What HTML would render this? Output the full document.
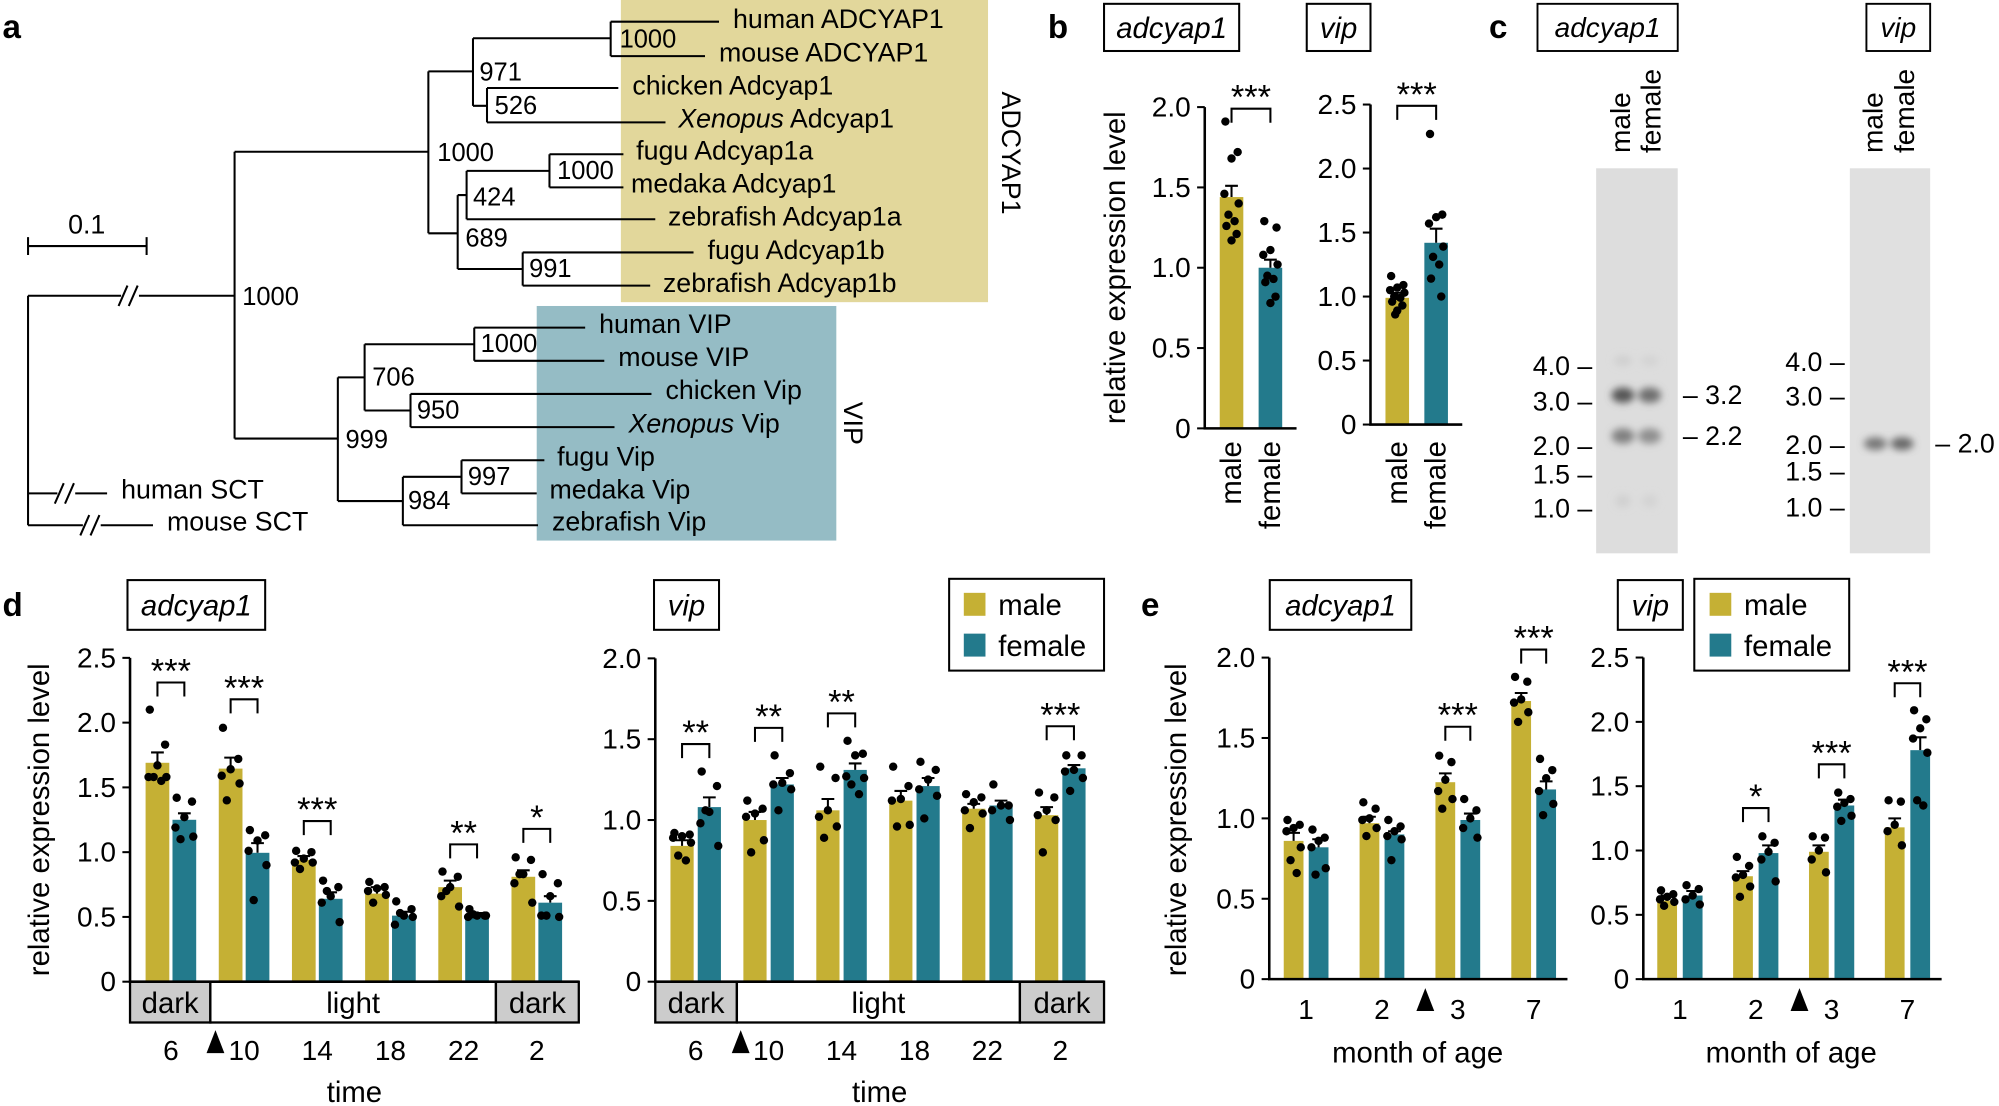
<!DOCTYPE html>
<html><head><meta charset="utf-8">
<style>
html,body{margin:0;padding:0;background:#fff;}
svg{display:block;font-family:"Liberation Sans",sans-serif;}
</style></head>
<body>
<svg id="fig" xmlns="http://www.w3.org/2000/svg" width="1999" height="1106" viewBox="0 0 1568 867.5" preserveAspectRatio="none">
<defs>
<filter id="blur" x="-50%" y="-50%" width="200%" height="200%"><feGaussianBlur stdDeviation="3"/></filter>
</defs>
<!-- Panel a -->
<g>
<text x="2" y="30" font-size="26" font-weight="bold">a</text>
<rect x="487" y="0" width="288" height="237" fill="#e2d79b"/>
<rect x="421" y="240" width="235" height="184" fill="#95bcc5"/>
<text transform="translate(786,120) rotate(90)" text-anchor="middle" font-size="21">ADCYAP1</text>
<text transform="translate(662,332) rotate(90)" text-anchor="middle" font-size="21">VIP</text>
<g stroke="#000" stroke-width="1.6">
<path d="M22 193 H115 M22 186 V200 M115 186 V200" fill="none"/>
</g>
<text x="68" y="183" text-anchor="middle" font-size="21">0.1</text>
<path fill="none" stroke="#000" stroke-width="1.6" d="
M22 232 V412 M22 232 H184 M22 387 H84 M22 412 H120
M184 119 V344 M184 119 H336 M336 56 V183 M336 56 H371 M371 30 V83 M371 30 H479 M479 17 V44 M479 17 H564 M479 44 H553
M371 83 H382 M382 69 V96 M382 69 H485 M382 96 H522
M336 183 H359 M359 153 V211 M359 153 H366 M366 134 V172 M366 134 H431 M431 121 V147 M431 121 H489 M431 147 H489 M366 172 H514
M359 211 H410 M410 198 V224 M410 198 H544 M410 224 H510
M184 344 H265 M265 296 V393 M265 296 H286 M286 270 V322 M286 270 H372 M372 257 V283 M372 257 H459 M372 283 H474
M286 322 H322 M322 309 V335 M322 309 H511 M322 335 H482
M265 393 H316 M316 374 V412 M316 374 H362 M362 361 V387 M362 361 H427 M362 387 H421 M316 412 H422"/>
<g stroke="#000" stroke-width="1.6">
<rect x="95" y="225" width="14" height="14" fill="#fff" stroke="none"/>
<path d="M93 240 L100 224 M101 240 L108 224"/>
<rect x="45" y="380" width="14" height="14" fill="#fff" stroke="none"/>
<path d="M43 395 L50 379 M51 395 L58 379"/>
<rect x="65" y="405" width="14" height="14" fill="#fff" stroke="none"/>
<path d="M63 420 L70 404 M71 420 L78 404"/>
</g>
<g font-size="21" dominant-baseline="central">
<text x="575" y="15">human ADCYAP1</text>
<text x="564" y="41">mouse ADCYAP1</text>
<text x="496" y="67">chicken Adcyap1</text>
<text x="532" y="93"><tspan font-style="italic">Xenopus</tspan> Adcyap1</text>
<text x="499" y="118">fugu Adcyap1a</text>
<text x="495" y="144">medaka Adcyap1</text>
<text x="524" y="170">zebrafish Adcyap1a</text>
<text x="555" y="196">fugu Adcyap1b</text>
<text x="520" y="222">zebrafish Adcyap1b</text>
<text x="470" y="254">human VIP</text>
<text x="485" y="280">mouse VIP</text>
<text x="522" y="306">chicken Vip</text>
<text x="493" y="332"><tspan font-style="italic">Xenopus</tspan> Vip</text>
<text x="437" y="358">fugu Vip</text>
<text x="431" y="384">medaka Vip</text>
<text x="433" y="409">zebrafish Vip</text>
<text x="95" y="384">human SCT</text>
<text x="131" y="409">mouse SCT</text>
</g>
<g font-size="20" dominant-baseline="central">
<text x="190" y="233">1000</text>
<text x="343" y="120">1000</text>
<text x="376" y="57">971</text>
<text x="486" y="31">1000</text>
<text x="388" y="83">526</text>
<text x="365" y="187">689</text>
<text x="371" y="155">424</text>
<text x="437" y="134">1000</text>
<text x="415" y="211">991</text>
<text x="271" y="345">999</text>
<text x="292" y="296">706</text>
<text x="377" y="270">1000</text>
<text x="327" y="322">950</text>
<text x="320" y="393">984</text>
<text x="367" y="374">997</text>
</g>
</g>

<!-- Panel c blots -->
<g>
<text x="1168" y="30" font-size="26" font-weight="bold">c</text>
<rect x="1206" y="3" width="110" height="37" fill="#fff" stroke="#000" stroke-width="1.5"/>
<text x="1261" y="29" text-anchor="middle" font-size="22" font-style="italic">adcyap1</text>
<rect x="1464" y="3" width="50" height="37" fill="#fff" stroke="#000" stroke-width="1.5"/>
<text x="1489" y="29" text-anchor="middle" font-size="22" font-style="italic">vip</text>
<g font-size="22" dominant-baseline="central">
<text transform="translate(1271,120) rotate(-90)">male</text>
<text transform="translate(1295,120) rotate(-90)">female</text>
<text transform="translate(1469,120) rotate(-90)">male</text>
<text transform="translate(1494,120) rotate(-90)">female</text>
</g>
<rect x="1252" y="132" width="64" height="302" fill="#dddddd"/>
<g filter="url(#blur)">
<ellipse cx="1273" cy="283" rx="7" ry="4" fill="#cfcfcf"/><ellipse cx="1294" cy="283" rx="7" ry="4" fill="#d3d3d3"/>
<ellipse cx="1273" cy="310" rx="9" ry="6" fill="#555"/><ellipse cx="1294" cy="310" rx="9" ry="6" fill="#6e6e6e"/>
<ellipse cx="1273" cy="342" rx="9" ry="6" fill="#808080"/><ellipse cx="1294" cy="342" rx="9" ry="6" fill="#8f8f8f"/>
<ellipse cx="1273" cy="393" rx="6" ry="5" fill="#d0d0d0"/><ellipse cx="1294" cy="393" rx="6" ry="5" fill="#d3d3d3"/>
</g>
<rect x="1451" y="132" width="63" height="302" fill="#e0e0e0"/>
<g filter="url(#blur)">
<ellipse cx="1471" cy="348" rx="9" ry="5" fill="#777"/><ellipse cx="1492" cy="348" rx="9" ry="5" fill="#666"/>
</g>
<g font-size="21" text-anchor="end" dominant-baseline="central">
<text x="1249" y="287">4.0 –</text><text x="1249" y="315">3.0 –</text><text x="1249" y="350">2.0 –</text><text x="1249" y="372">1.5 –</text><text x="1249" y="399">1.0 –</text>
<text x="1447" y="284">4.0 –</text><text x="1447" y="311">3.0 –</text><text x="1447" y="349">2.0 –</text><text x="1447" y="370">1.5 –</text><text x="1447" y="398">1.0 –</text>
</g>
<g font-size="21" dominant-baseline="central">
<text x="1320" y="310">– 3.2</text><text x="1320" y="342">– 2.2</text><text x="1518" y="348">– 2.0</text>
</g>
</g>
<g id="charts"></g>
</svg>
<script>
// ---------- data ----------
// panel b
const bCats=['male','female'];
const bAdcMeans=[1.44,1.0];
const bAdcErr=[1.51,1.05];
const bAdcDots=[[1.91,1.72,1.68,1.46,1.40,1.33,1.29,1.26,1.21,1.17],[1.29,1.25,1.11,1.08,1.02,0.95,0.93,0.91,0.82,0.78]];
const bVipMeans=[0.99,1.42];
const bVipErr=[1.03,1.53];
const bVipDots=[[1.16,1.09,1.07,1.05,1.03,1.0,0.99,0.96,0.93,0.89,0.86],[2.27,1.64,1.62,1.57,1.39,1.31,1.25,1.14,1.0]];
// panel d
const dCats=['6','10','14','18','22','2'];
const dAdcMale=[1.69,1.645,0.94,0.68,0.73,0.81];
const dAdcFemale=[1.25,0.995,0.64,0.51,0.51,0.61];
const dAdcMaleErr=[1.77,1.73,0.97,0.73,0.78,0.86];
const dAdcFemaleErr=[1.30,1.07,0.69,0.54,0.53,0.66];
const dAdcMaleDots=[[2.10,1.83,1.67,1.58,1.58,1.58,1.55],[1.96,1.72,1.64,1.59,1.53,1.40],[1.01,1.00,0.95,0.92,0.92,0.87],[0.77,0.73,0.72,0.70,0.67,0.61],[0.85,0.81,0.73,0.66,0.58,0.70],[0.96,0.94,0.83,0.76,0.61,0.83]];
const dAdcFemaleDots=[[1.42,1.39,1.27,1.19,1.12,1.10],[1.17,1.13,1.09,1.01,0.90,0.63],[0.78,0.73,0.66,0.61,0.46,0.70],[0.62,0.56,0.51,0.44,0.50,0.53],[0.56,0.51,0.51,0.50,0.51,0.52],[0.83,0.76,0.66,0.51,0.50,0.51]];
const dAdcSigIdx=[0,1,2,4,5];
const dAdcSigTop=[2.31,2.18,1.24,1.06,1.18];
const dAdcSigStars=['***','***','***','**','*'];
const dVipMale=[0.84,1.0,1.06,1.12,1.07,1.03];
const dVipFemale=[1.08,1.22,1.31,1.21,1.09,1.32];
const dVipMaleErr=[0.875,1.05,1.13,1.18,1.10,1.08];
const dVipFemaleErr=[1.14,1.26,1.35,1.26,1.12,1.34];
const dVipMaleDots=[[0.92,0.91,0.90,0.89,0.86,0.78,0.75],[1.12,1.07,1.04,1.02,0.875,0.80],[1.33,1.26,1.06,1.02,0.96,0.89],[1.33,1.21,1.13,1.12,0.97,0.96],[1.16,1.14,1.11,1.06,1.04,0.95],[1.17,1.14,1.06,1.03,1.0,0.80]];
const dVipFemaleDots=[[1.30,1.21,1.05,0.98,0.84,1.06],[1.40,1.29,1.23,1.22,1.19,1.06],[1.49,1.41,1.40,1.27,1.26,1.22,1.16],[1.36,1.31,1.25,1.19,1.15,1.01],[1.22,1.09,1.09,1.06,1.0],[1.40,1.40,1.31,1.30,1.26,1.18]];
const dVipSigIdx=[0,1,2,5];
const dVipSigTop=[1.47,1.57,1.66,1.58];
const dVipSigStars=['**','**','**','***'];
const dTicksA=[0,0.5,1,1.5,2,2.5];
const dTickLabelsA=['0','0.5','1.0','1.5','2.0','2.5'];
const dTicksV=[0,0.5,1,1.5,2];
const dTickLabelsV=['0','0.5','1.0','1.5','2.0'];
// panel e
const eCats=['1','2','3','7'];
const eAdcMale=[0.86,0.97,1.225,1.73];
const eAdcFemale=[0.82,0.90,0.99,1.18];
const eAdcMaleErr=[0.91,1.01,1.28,1.78];
const eAdcFemaleErr=[0.87,0.92,1.03,1.23];
const eAdcMaleDots=[[0.99,0.96,0.94,0.92,0.82,0.74,0.66],[1.10,1.06,1.0,0.99,0.94,0.89],[1.39,1.35,1.24,1.17,1.12,1.06],[1.88,1.85,1.74,1.72,1.66,1.60]];
const eAdcFemaleDots=[[0.93,0.88,0.86,0.82,0.69,0.65],[0.99,0.95,0.92,0.89,0.87,0.74],[1.12,1.05,1.0,0.94,0.88],[1.37,1.30,1.25,1.17,1.09,1.02]];
const eAdcSigIdx=[2,3];
const eAdcSigTop=[1.57,2.05];
const eAdcSigStars=['***','***'];
const eVipMale=[0.61,0.80,0.99,1.18];
const eVipFemale=[0.65,0.98,1.35,1.78];
const eVipMaleErr=[0.65,0.84,1.04,1.25];
const eVipFemaleErr=[0.685,1.04,1.395,1.88];
const eVipMaleDots=[[0.69,0.66,0.64,0.62,0.60,0.57],[0.95,0.88,0.81,0.79,0.72,0.64],[1.11,1.10,1.0,0.93,0.83],[1.39,1.38,1.20,1.15,1.04]];
const eVipFemaleDots=[[0.73,0.70,0.65,0.62,0.58],[1.11,1.06,0.99,0.93,0.76],[1.45,1.40,1.37,1.34,1.27,1.23],[2.09,2.02,1.95,1.87,1.76,1.39,1.35]];
const eVipSigIdx=[1,2,3];
const eVipSigTop=[1.33,1.67,2.30];
const eVipSigStars=['*','***','***'];
const eTicksA=[0,0.5,1,1.5,2];
const eTickLabelsA=['0','0.5','1.0','1.5','2.0'];
const eTicksV=[0,0.5,1,1.5,2,2.5];
const eTickLabelsV=['0','0.5','1.0','1.5','2.0','2.5'];

// ---------- drawing ----------
const NS='http://www.w3.org/2000/svg';
const root=document.getElementById('charts');
const MALE='#c5b034', FEMALE='#237a8c';
const OFFS=[-6,6,0,-7,7,-3,3,-5,5,0,-2];
function mk(tag,attrs,parent){const e=document.createElementNS(NS,tag);for(const k in attrs)e.setAttribute(k,attrs[k]);(parent||root).appendChild(e);return e;}
function txt(str,attrs,parent){const e=mk('text',attrs,parent);e.textContent=str;return e;}

function drawChart(c){
  const g=mk('g',{});
  
  
  const y=v=>c.y0-v*c.ppu;
  const xm=i=>c.m0+i*c.step, xf=i=>c.f0+i*c.step;
  // bars
  c.male.forEach((v,i)=>{
    const r=mk('rect',{x:xm(i)-c.bw/2,y:y(v),width:c.bw,height:c.y0-y(v),fill:MALE},g);
    
    
  });
  c.female.forEach((v,i)=>{
    const r=mk('rect',{x:xf(i)-c.bw/2,y:y(v),width:c.bw,height:c.y0-y(v),fill:FEMALE},g);
    
    
  });
  // error bars
  function err(cx,m,t,nm){
    const p=mk('path',{d:`M${cx} ${y(m)} V${y(t)} M${cx-5} ${y(t)} H${cx+5}`,stroke:'#000','stroke-width':1.6,fill:'none'},g);
    
    
  }
  c.male.forEach((v,i)=>err(xm(i),v,c.maleErr[i],'male-error-bar'));
  c.female.forEach((v,i)=>err(xf(i),v,c.femaleErr[i],'female-error-bar'));
  // dots
  function dots(arr,xfun,nm){
    arr.forEach((ds,i)=>ds.forEach((v,j)=>{
      const d=mk('circle',{cx:xfun(i)+OFFS[j%OFFS.length]*c.dsp,cy:y(v),r:3.3,fill:'#000'},g);
      
      
    }));
  }
  dots(c.maleDots,xm,'male-data-point');
  dots(c.femaleDots,xf,'female-data-point');
  // axes
  const ax=mk('path',{d:`M${c.x0} ${y(c.ticks[c.ticks.length-1])} V${c.y0} H${c.x1}`,stroke:'#000','stroke-width':2,fill:'none'},g);
  
  
  c.ticks.forEach((t,i)=>{
    mk('path',{d:`M${c.x0-6} ${y(t)} H${c.x0}`,stroke:'#000','stroke-width':1.6},g);
    const l=txt(c.tickLabels[i],{x:c.x0-11,y:y(t),'text-anchor':'end','dominant-baseline':'central','font-size':22},g);
    
    
  });
  // significance
  c.sigIdx.forEach((gi,k)=>{
    const t=y(c.sigTop[k]);
    const b=mk('path',{d:`M${xm(gi)} ${t+11} V${t} H${xf(gi)} V${t+11}`,stroke:'#000','stroke-width':1.6,fill:'none'},g);
    
    
    const s=txt(c.sigStars[k],{x:(xm(gi)+xf(gi))/2,y:t+c.starDy,'text-anchor':'middle','font-size':c.starSize||27},g);
    
    
  });
  // category labels
  if(c.catY){
    c.cats.forEach((lab,i)=>{
      const l=txt(lab,{x:(xm(i)+xf(i))/2,y:c.catY,'text-anchor':'middle','dominant-baseline':'central','font-size':22},g);
      
      
    });
  }
  return g;
}
function box(x,y,w,h,label,nm){
  const r=mk('rect',{x:x,y:y,width:w,height:h,fill:'#fff',stroke:'#000','stroke-width':1.6});
  
  
  const t=txt(label,{x:x+w/2,y:y+h/2+1,'text-anchor':'middle','dominant-baseline':'central','font-size':23,'font-style':'italic'});
  
  
}
function ylabel(x,yc,nm){
  const t=txt('relative expression level',{transform:`translate(${x},${yc}) rotate(-90)`,'text-anchor':'middle','dominant-baseline':'central','font-size':23});
  
  
}
function panelLabel(s,x,y){
  const t=txt(s,{x:x,y:y,'font-size':26,'font-weight':'bold'});
  
  
}
function arrow(x,yTop,nm){
  const p=mk('path',{d:`M${x} ${yTop} L${x+7} ${yTop+18} L${x-7} ${yTop+18} Z`,fill:'#000'});
  
  
}
function band(x0,x1,x2,x3,nm){
  const segs=[[x0,x1,'dark','#cccccc'],[x1,x2,'light','#ffffff'],[x2,x3,'dark','#cccccc']];
  segs.forEach(s=>{
    const r=mk('rect',{x:s[0],y:770,width:s[1]-s[0],height:32,fill:s[3],stroke:'#000','stroke-width':1.8});
    
    
    const t=txt(s[2],{x:(s[0]+s[1])/2,y:787,'text-anchor':'middle','dominant-baseline':'central','font-size':23});
    
    
  });
}
function legend(x,y,w,h,sx,tx){
  const r=mk('rect',{x:x,y:y,width:w,height:h,fill:'#fff',stroke:'#000','stroke-width':1.6});
  
  
  [['male',MALE,y+11],['female',FEMALE,y+43]].forEach(e=>{
    const s=mk('rect',{x:sx,y:e[2],width:17,height:18,fill:e[1]});
    
    
    const t=txt(e[0],{x:tx,y:e[2]+10,'dominant-baseline':'central','font-size':23});
    
    
  });
}
function xtitle(s,x,y){
  const t=txt(s,{x:x,y:y,'text-anchor':'middle','dominant-baseline':'central','font-size':23});
  
  
}

// ---- panel b ----
panelLabel('b',822,30);
box(866,3,106,37,'adcyap1','b-adcyap1-title');
box(1025,3,50,37,'vip','b-vip-title');
ylabel(875,210,'b-y-axis-title');
drawChart({name:'b-adcyap1-chart',cats:bCats,x0:945,x1:1017,y0:336,ppu:126,ticks:[0,0.5,1,1.5,2],tickLabels:['0','0.5','1.0','1.5','2.0'],
  m0:966,f0:996.5,step:0,bw:18.5,dsp:0.8,male:[bAdcMeans[0]],female:[bAdcMeans[1]],maleErr:[bAdcErr[0]],femaleErr:[bAdcErr[1]],
  maleDots:[bAdcDots[0]],femaleDots:[bAdcDots[1]],sigIdx:[0],sigTop:[1.99],sigStars:['***'],starDy:0});
drawChart({name:'b-vip-chart',cats:bCats,x0:1075,x1:1147,y0:333,ppu:100.4,ticks:[0,0.5,1,1.5,2,2.5],tickLabels:['0','0.5','1.0','1.5','2.0','2.5'],
  m0:1096,f0:1126.5,step:0,bw:18.5,dsp:0.8,male:[bVipMeans[0]],female:[bVipMeans[1]],maleErr:[bVipErr[0]],femaleErr:[bVipErr[1]],
  maleDots:[bVipDots[0]],femaleDots:[bVipDots[1]],sigIdx:[0],sigTop:[2.49],sigStars:['***'],starDy:0});
[[966,'b-adcyap1'],[996.5,'b-adcyap1'],[1096,'b-vip'],[1126.5,'b-vip']].forEach((p,i)=>{
  const t=txt(bCats[i%2],{transform:`translate(${p[0]},346) rotate(-90)`,'text-anchor':'end','dominant-baseline':'central','font-size':23});
  
  
});

// ---- panel d ----
panelLabel('d',2,483);
box(100,455,108,39,'adcyap1','d-adcyap1-title');
box(513,455,51,39,'vip','d-vip-title');
ylabel(31,643,'d-y-axis-title');
band(102,165,389,454,'d-adcyap1');
band(514,578,800,866,'d-vip');
drawChart({name:'d-adcyap1-chart',cats:dCats,x0:102,x1:454,y0:770,ppu:101.6,ticks:dTicksA,tickLabels:dTickLabelsA,
  m0:123.5,f0:144.6,step:57.4,bw:18.6,dsp:1,male:dAdcMale,female:dAdcFemale,maleErr:dAdcMaleErr,femaleErr:dAdcFemaleErr,
  maleDots:dAdcMaleDots,femaleDots:dAdcFemaleDots,sigIdx:dAdcSigIdx,sigTop:dAdcSigTop,sigStars:dAdcSigStars,starDy:0,catY:824});
drawChart({name:'d-vip-chart',cats:dCats,x0:514,x1:866,y0:770,ppu:126.8,ticks:dTicksV,tickLabels:dTickLabelsV,
  m0:535,f0:556.4,step:57.2,bw:18.2,dsp:1,male:dVipMale,female:dVipFemale,maleErr:dVipMaleErr,femaleErr:dVipFemaleErr,
  maleDots:dVipMaleDots,femaleDots:dVipFemaleDots,sigIdx:dVipSigIdx,sigTop:dVipSigTop,sigStars:dVipSigStars,starDy:0,catY:824});
arrow(169,808,'d-adcyap1-light-on-arrow');
arrow(581,808,'d-vip-light-on-arrow');
xtitle('time',278,857);
xtitle('time',690,857);
legend(744.5,454,121.5,72,756,783);

// ---- panel e ----
panelLabel('e',895,483);
box(996,455,111,39,'adcyap1','e-adcyap1-title');
box(1269,455,51,39,'vip','e-vip-title');
ylabel(923,643,'e-y-axis-title');
drawChart({name:'e-adcyap1-chart',cats:eCats,x0:995.6,x1:1229.5,y0:768,ppu:126.1,ticks:eTicksA,tickLabels:eTickLabelsA,
  m0:1014.7,f0:1034.3,step:59.5,bw:15.5,dsp:0.8,male:eAdcMale,female:eAdcFemale,maleErr:eAdcMaleErr,femaleErr:eAdcFemaleErr,
  maleDots:eAdcMaleDots,femaleDots:eAdcFemaleDots,sigIdx:eAdcSigIdx,sigTop:eAdcSigTop,sigStars:eAdcSigStars,starDy:0,catY:792});
drawChart({name:'e-vip-chart',cats:eCats,x0:1289,x1:1523,y0:768,ppu:100.9,ticks:eTicksV,tickLabels:eTickLabelsV,
  m0:1307.7,f0:1327.7,step:59.5,bw:15.5,dsp:0.8,male:eVipMale,female:eVipFemale,maleErr:eVipMaleErr,femaleErr:eVipFemaleErr,
  maleDots:eVipMaleDots,femaleDots:eVipFemaleDots,sigIdx:eVipSigIdx,sigTop:eVipSigTop,sigStars:eVipSigStars,starDy:0,catY:792});
arrow(1118,775,'e-adcyap1-treatment-arrow');
arrow(1411.5,775,'e-vip-treatment-arrow');
xtitle('month of age',1112,826);
xtitle('month of age',1405,826);
legend(1329,454,121.5,72,1341,1368);
</script>
</body></html>
